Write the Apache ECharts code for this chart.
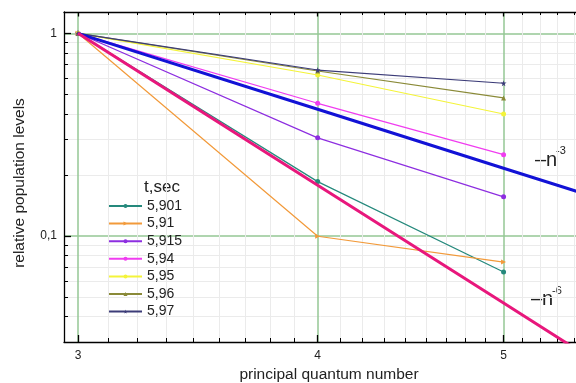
<!DOCTYPE html>
<html><head><meta charset="utf-8">
<script src="https://cdn.jsdelivr.net/npm/echarts@6/dist/echarts.min.js"></script>
<style>html,body{margin:0;padding:0;background:#fff}#c{width:576px;height:383px}</style>
</head><body><div id="c"></div>
<script>
// ---- data ----
const nValues = [3, 4, 5];
const seriesNames = ['5,901', '5,91', '5,915', '5,94', '5,95', '5,96', '5,97'];
const v5901 = [1, 0.1855, 0.0664];
const v591  = [1, 0.0997, 0.0744];
const v5915 = [1, 0.305, 0.156];
const v594  = [1, 0.4516, 0.252];
const v595  = [1, 0.623, 0.400];
const v596  = [1, 0.652, 0.480];
const v597  = [1, 0.659, 0.567];
const refN = [3, 4, 5, 6];
const powMinus3 = [1, 0.422, 0.216, 0.125];
const powMinus6 = [1, 0.178, 0.0467, 0.0156];
const xTickLabels = [3, 4, 5];
const yTickLabels = [0.1, 1];
const yMinorTicks = [0.04, 0.05, 0.06, 0.07, 0.08, 0.09, 0.2, 0.3, 0.4, 0.5, 0.6, 0.7, 0.8, 0.9];
const xMinorTicks = [];
for (const n of [3, 4, 5]) for (let k = 1; k < 9; k++) xMinorTicks.push(+(n + k / 9).toFixed(6));

const X_MIN = 2.95, X_MAX = 5.6, Y_MIN = 0.03, Y_MAX = 1.274;
const FONT = 'Liberation Sans, Arial, sans-serif';
const MAJOR_GRID = '#94c794', MINOR_GRID = '#ebebeb';
const fmt = v => String(+(+v).toPrecision(6)).replace('.', ',');

const chart = echarts.init(document.getElementById('c'), null, {renderer: 'canvas'});

function base(min, max, pos) {
  return {type: 'log', logBase: 10, position: pos, min: min, max: max,
          minorTick: {show: false}, minorSplitLine: {show: false}, splitArea: {show: false}};
}
function gridAx(min, max, pos, vals, color, width) {
  return Object.assign(base(min, max, pos), {
    axisLine: {show: false}, axisLabel: {show: false},
    axisTick: {show: false, customValues: vals},
    splitLine: {show: true, lineStyle: {color: color, width: width}}
  });
}
function tickAx(min, max, pos, vals, len, major, labelOpt) {
  return Object.assign(base(min, max, pos), {
    axisLine: {show: major, lineStyle: {color: '#000', width: 1.3}},
    axisTick: {show: true, inside: true, length: len, customValues: vals,
               lineStyle: {color: '#000', width: major ? 1.3 : 1}},
    axisLabel: labelOpt || {show: false},
    splitLine: {show: false}
  });
}
const xLab = {show: true, customValues: xTickLabels, color: '#222', fontSize: 12, margin: 8, formatter: fmt};
const yLab = {show: true, customValues: yTickLabels, color: '#222', fontSize: 12, margin: 7, formatter: fmt};

function mk(name, vals, color, symbol, extra) {
  return Object.assign({
    type: 'line', name: name, xAxisIndex: 2, yAxisIndex: 2,
    data: nValues.map((n, i) => [n, vals[i]]),
    symbol: symbol, symbolSize: 5, showSymbol: true,
    lineStyle: {color: color, width: 1.2}, itemStyle: {color: color}, z: 3
  }, extra || {});
}
function ref(name, vals, color) {
  return {
    type: 'line', name: name, xAxisIndex: 2, yAxisIndex: 2,
    data: refN.map((n, i) => [n, vals[i]]),
    symbol: 'none', lineStyle: {color: color, width: 3}, z: 4, clip: true
  };
}
const star = 'path://M50,0 L61,35 L98,35 L68,57 L79,91 L50,70 L21,91 L32,57 L2,35 L39,35 Z';

chart.setOption({
  animation: false,
  backgroundColor: '#fff',
  textStyle: {fontFamily: FONT},
  grid: {left: 64, top: 12, width: 534, height: 330, containLabel: false, outerBoundsMode: 'none'},
  xAxis: [
    gridAx(X_MIN, X_MAX, 'bottom', xMinorTicks, MINOR_GRID, 1),
    gridAx(X_MIN, X_MAX, 'bottom', xTickLabels, MAJOR_GRID, 1.5),
    tickAx(X_MIN, X_MAX, 'bottom', xTickLabels, 7, true, xLab),
    tickAx(X_MIN, X_MAX, 'bottom', xMinorTicks, 4, false),
    tickAx(X_MIN, X_MAX, 'top', xTickLabels, 4.5, true),
    tickAx(X_MIN, X_MAX, 'top', xMinorTicks, 3, false)
  ],
  yAxis: [
    gridAx(Y_MIN, Y_MAX, 'left', yMinorTicks, MINOR_GRID, 1),
    gridAx(Y_MIN, Y_MAX, 'left', yTickLabels, MAJOR_GRID, 1.5),
    tickAx(Y_MIN, Y_MAX, 'left', yTickLabels, 7, true, yLab),
    tickAx(Y_MIN, Y_MAX, 'left', yMinorTicks, 4, false)
  ],
  legend: {
    orient: 'vertical', left: 108, top: 199, padding: 0,
    itemWidth: 33, itemHeight: 5, itemGap: 3.6,
    textStyle: {fontSize: 14, color: '#222', fontFamily: FONT},
    data: seriesNames
  },
  series: [
    mk('5,901', v5901, '#25897c', 'circle'),
    mk('5,91', v591, '#f29a3a', 'triangle', {symbolRotate: -90}),
    mk('5,915', v5915, '#8d2ee0', 'circle'),
    mk('5,94', v594, '#f03cf0', 'circle'),
    mk('5,95', v595, '#f4f43a', 'circle'),
    mk('5,96', v596, '#8a8a38', 'triangle'),
    mk('5,97', v597, '#3c3c78', star, {symbolSize: 6}),
    ref('n-3', powMinus3, '#1212d6'),
    ref('n-6', powMinus6, '#e8177c')
  ],
  graphic: [
    {type: 'text', x: 144, y: 187, style: {text: 't,sec', font: '17px ' + FONT, fill: '#222', verticalAlign: 'middle'}},
    {type: 'text', x: 535, y: 160, style: {text: '–n', font: '20px ' + FONT, fill: '#222', verticalAlign: 'middle'}},
    {type: 'text', x: 556, y: 151, style: {text: '-3', font: '11px ' + FONT, fill: '#222', verticalAlign: 'middle'}},
    {type: 'text', x: 531, y: 299, style: {text: '–n', font: '20px ' + FONT, fill: '#222', verticalAlign: 'middle'}},
    {type: 'text', x: 552, y: 291, style: {text: '-6', font: '11px ' + FONT, fill: '#222', verticalAlign: 'middle'}},
    {type: 'text', x: 329, y: 375, style: {text: 'principal quantum number', font: '15.5px ' + FONT, fill: '#222', align: 'center', verticalAlign: 'middle'}},
    {type: 'text', x: 20, y: 183, rotation: Math.PI / 2, style: {text: 'relative population levels', font: '15.5px ' + FONT, fill: '#222', align: 'center', verticalAlign: 'middle'}}
  ]
});
</script>
</body></html>
